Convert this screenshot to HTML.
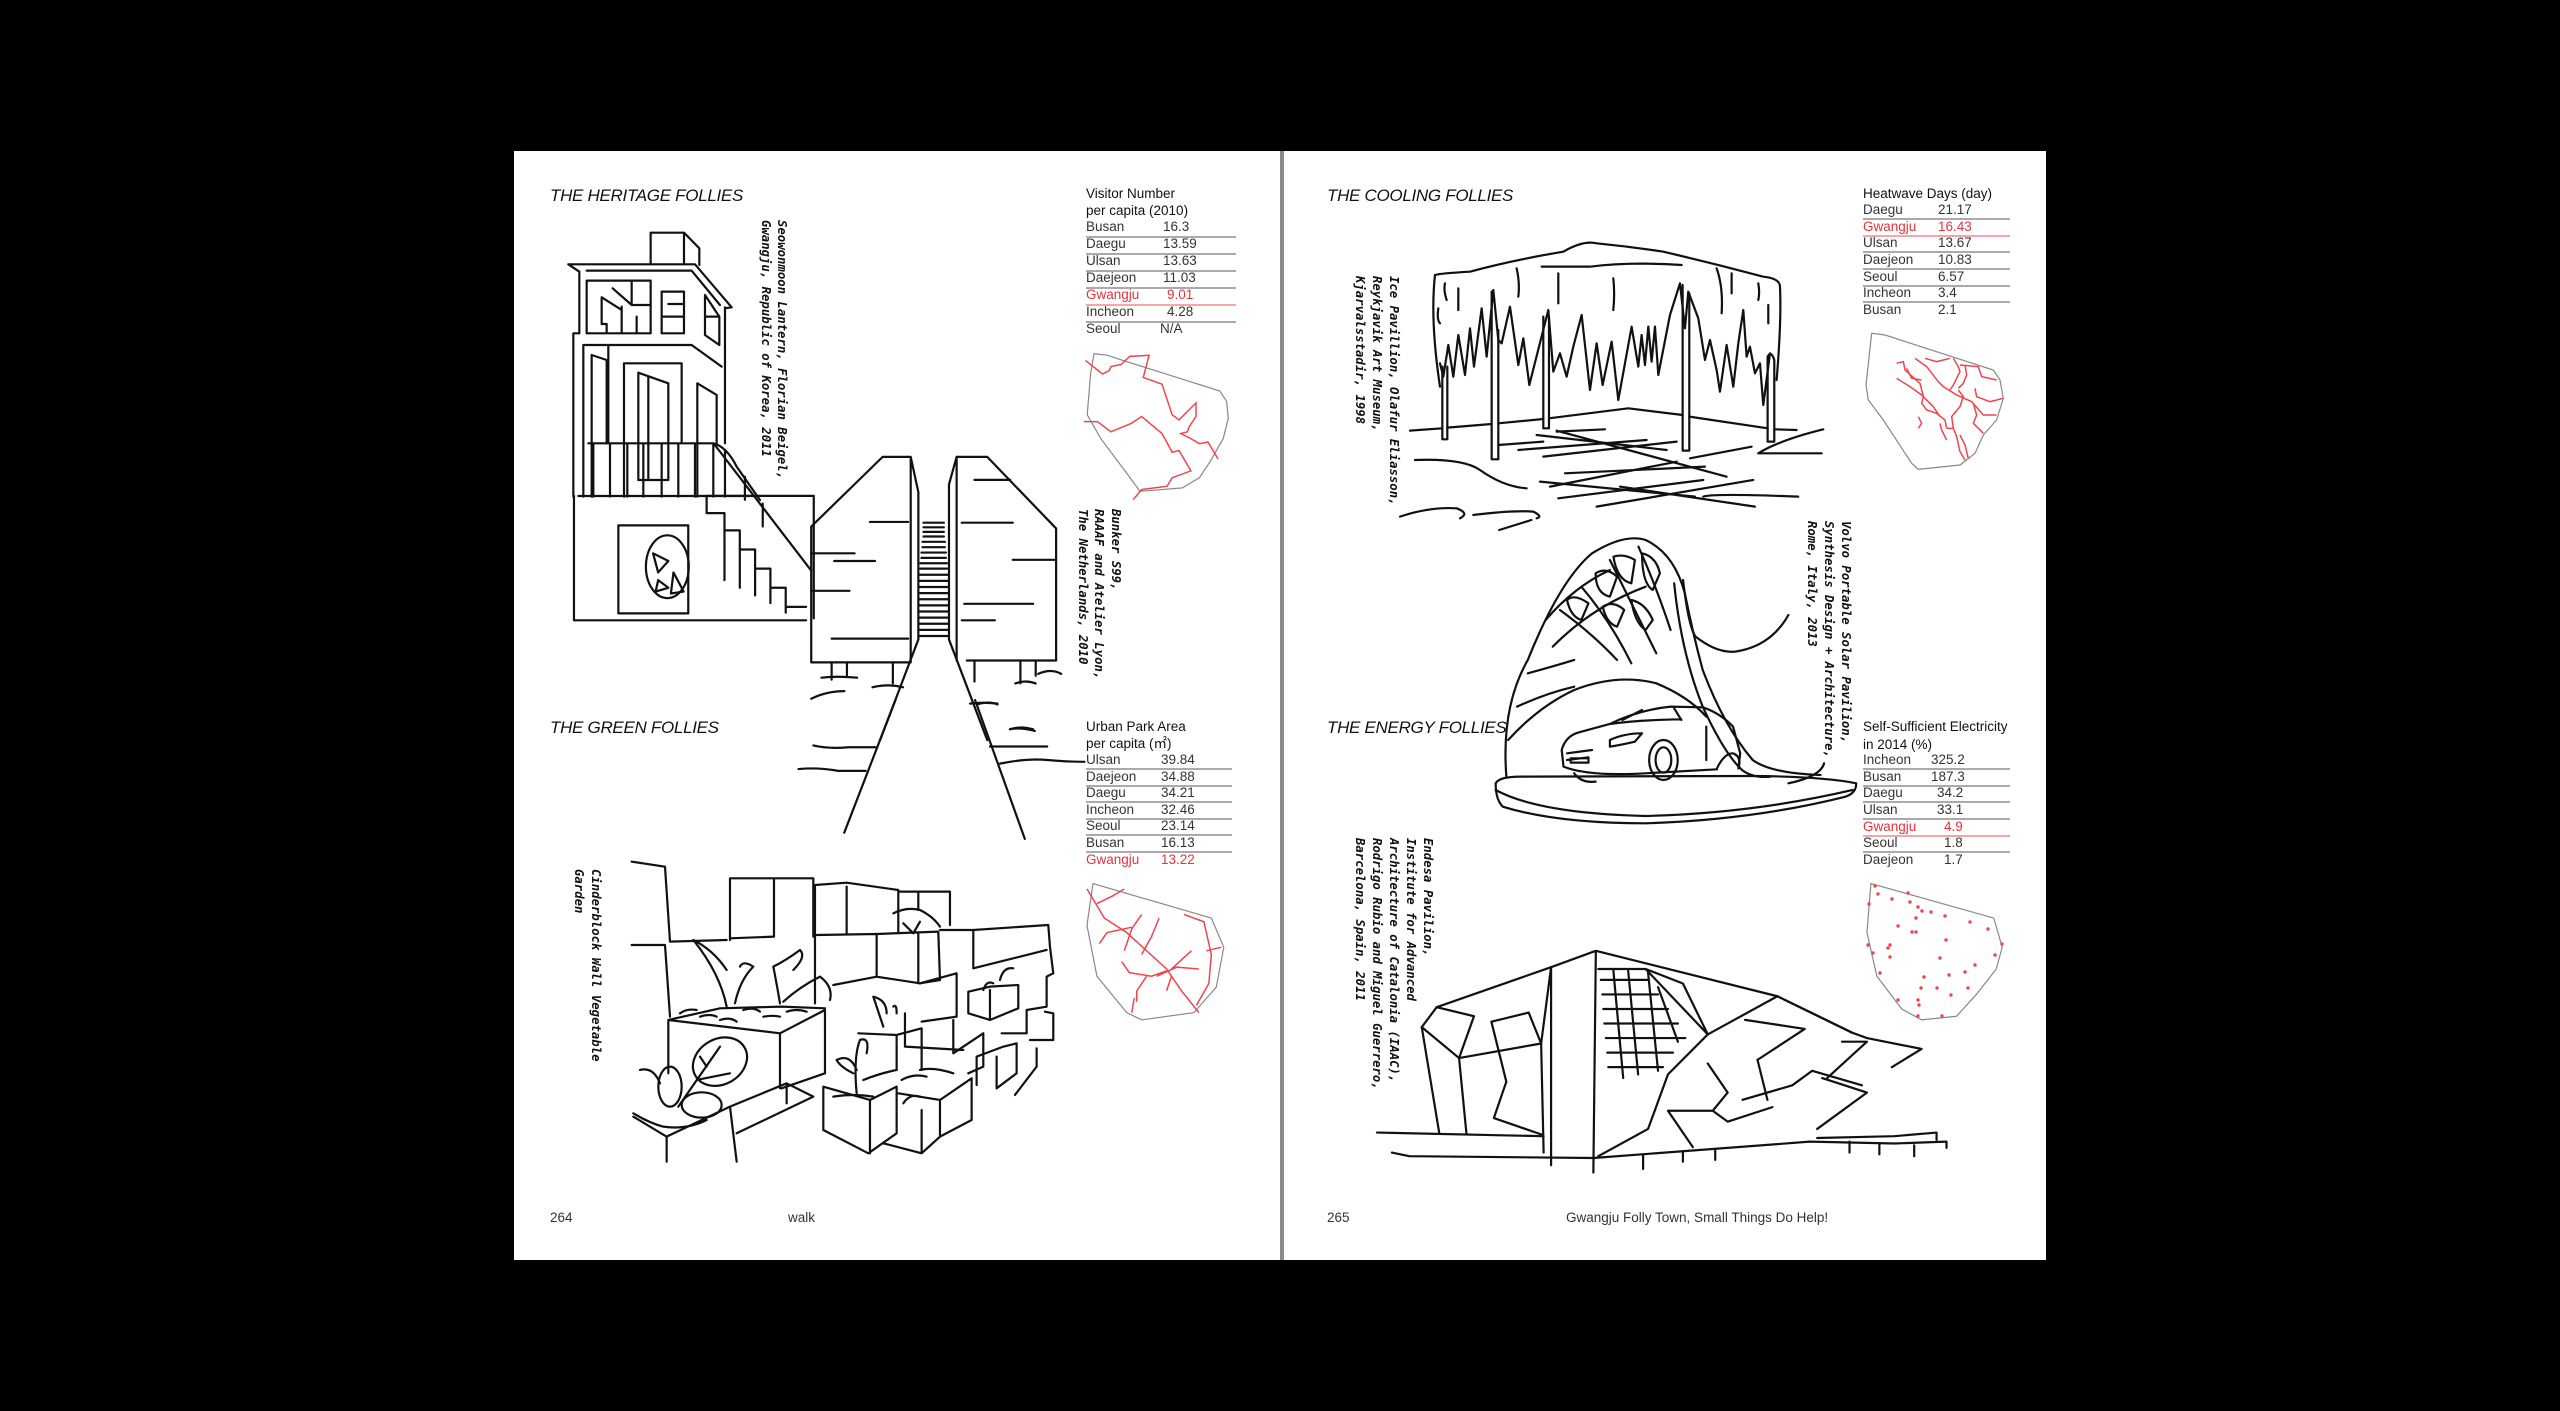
<!DOCTYPE html>
<html><head><meta charset="utf-8">
<style>
html,body{margin:0;padding:0;background:#000;overflow:hidden;}
svg{display:block;}
.ti{font-family:"Liberation Sans",sans-serif;font-style:italic;font-size:17px;fill:#111;letter-spacing:-0.3px;}
.tb{font-family:"Liberation Sans",sans-serif;font-size:13.5px;fill:#333;}
.th{font-family:"Liberation Sans",sans-serif;font-size:13.5px;fill:#111;}
.r{fill:#e8323c;}
.cap{font-family:"DejaVu Sans Mono",monospace;font-weight:bold;font-style:oblique;font-size:12.3px;fill:#111;}
.d path,.d rect,.d ellipse,.d polyline,.d line{fill:none;stroke:#111;stroke-width:2.2;vector-effect:non-scaling-stroke;stroke-linejoin:round;stroke-linecap:round;}
.m path{fill:none;stroke:#888;stroke-width:1.2;vector-effect:non-scaling-stroke;}
.m .rd{stroke:#f0444c;stroke-width:1.5;}
.dot circle{fill:#f0444c;}
.tl line{stroke:#777;stroke-width:1.3;}
.tl line.rl{stroke:#f07078;}
</style></head>
<body>
<svg width="2560" height="1411" viewBox="0 0 2560 1411" xmlns="http://www.w3.org/2000/svg">
<rect x="0" y="0" width="2560" height="1411" fill="#000"/>
<rect x="514" y="151" width="766" height="1109" fill="#fff"/>
<rect x="1284" y="151" width="762" height="1109" fill="#fff"/>
<rect x="1280" y="151" width="4" height="1109" fill="#8a8a8a"/>

<text class="ti" x="550" y="201">THE HERITAGE FOLLIES</text>
<text class="ti" x="550" y="733">THE GREEN FOLLIES</text>
<text class="ti" x="1327" y="201">THE COOLING FOLLIES</text>
<text class="ti" x="1327" y="733">THE ENERGY FOLLIES</text>

<text class="tb" x="550" y="1222">264</text>
<text class="tb" x="788" y="1222">walk</text>
<text class="tb" x="1327" y="1222">265</text>
<text class="tb" x="1566" y="1222">Gwangju Folly Town, Small Things Do Help!</text>

<g class="tl">
<text class="th" x="1086" y="198">Visitor Number</text>
<text class="th" x="1086" y="215">per capita (2010)</text>
<text class="tb" x="1086" y="231">Busan</text><text class="tb" x="1163" y="231">16.3</text>
<line x1="1086" y1="237" x2="1236" y2="237"/>
<text class="tb" x="1086" y="248">Daegu</text><text class="tb" x="1163" y="248">13.59</text>
<line x1="1086" y1="254" x2="1236" y2="254"/>
<text class="tb" x="1086" y="265">Ulsan</text><text class="tb" x="1163" y="265">13.63</text>
<line x1="1086" y1="271" x2="1236" y2="271"/>
<text class="tb" x="1086" y="282">Daejeon</text><text class="tb" x="1163" y="282">11.03</text>
<line x1="1086" y1="288" x2="1236" y2="288"/>
<text class="tb r" x="1086" y="299">Gwangju</text><text class="tb r" x="1167" y="299">9.01</text>
<line class="rl" x1="1086" y1="305" x2="1236" y2="305"/>
<text class="tb" x="1086" y="316">Incheon</text><text class="tb" x="1167" y="316">4.28</text>
<line x1="1086" y1="322" x2="1236" y2="322"/>
<text class="tb" x="1086" y="333">Seoul</text><text class="tb" x="1160" y="333">N/A</text>
</g>

<g class="tl">
<text class="th" x="1086" y="731">Urban Park Area</text>
<text class="th" x="1086" y="748">per capita (㎡)</text>
<text class="tb" x="1086" y="764">Ulsan</text><text class="tb" x="1161" y="764">39.84</text>
<line x1="1086" y1="769" x2="1232" y2="769"/>
<text class="tb" x="1086" y="781">Daejeon</text><text class="tb" x="1161" y="781">34.88</text>
<line x1="1086" y1="786" x2="1232" y2="786"/>
<text class="tb" x="1086" y="797">Daegu</text><text class="tb" x="1161" y="797">34.21</text>
<line x1="1086" y1="802" x2="1232" y2="802"/>
<text class="tb" x="1086" y="814">Incheon</text><text class="tb" x="1161" y="814">32.46</text>
<line x1="1086" y1="819" x2="1232" y2="819"/>
<text class="tb" x="1086" y="830">Seoul</text><text class="tb" x="1161" y="830">23.14</text>
<line x1="1086" y1="835" x2="1232" y2="835"/>
<text class="tb" x="1086" y="847">Busan</text><text class="tb" x="1161" y="847">16.13</text>
<line x1="1086" y1="852" x2="1232" y2="852"/>
<text class="tb r" x="1086" y="864">Gwangju</text><text class="tb r" x="1161" y="864">13.22</text>
</g>

<g class="tl">
<text class="th" x="1863" y="198">Heatwave Days (day)</text>
<text class="tb" x="1863" y="214">Daegu</text><text class="tb" x="1938" y="214">21.17</text>
<line x1="1863" y1="219" x2="2010" y2="219"/>
<text class="tb r" x="1863" y="231">Gwangju</text><text class="tb r" x="1938" y="231">16.43</text>
<line class="rl" x1="1863" y1="236" x2="2010" y2="236"/>
<text class="tb" x="1863" y="247">Ulsan</text><text class="tb" x="1938" y="247">13.67</text>
<line x1="1863" y1="252" x2="2010" y2="252"/>
<text class="tb" x="1863" y="264">Daejeon</text><text class="tb" x="1938" y="264">10.83</text>
<line x1="1863" y1="269" x2="2010" y2="269"/>
<text class="tb" x="1863" y="281">Seoul</text><text class="tb" x="1938" y="281">6.57</text>
<line x1="1863" y1="286" x2="2010" y2="286"/>
<text class="tb" x="1863" y="297">Incheon</text><text class="tb" x="1938" y="297">3.4</text>
<line x1="1863" y1="302" x2="2010" y2="302"/>
<text class="tb" x="1863" y="314">Busan</text><text class="tb" x="1938" y="314">2.1</text>
</g>

<g class="tl">
<text class="th" x="1863" y="731">Self-Sufficient Electricity</text>
<text class="th" x="1863" y="749">in 2014 (%)</text>
<text class="tb" x="1863" y="764">Incheon</text><text class="tb" x="1931" y="764">325.2</text>
<line x1="1863" y1="769" x2="2010" y2="769"/>
<text class="tb" x="1863" y="781">Busan</text><text class="tb" x="1931" y="781">187.3</text>
<line x1="1863" y1="786" x2="2010" y2="786"/>
<text class="tb" x="1863" y="797">Daegu</text><text class="tb" x="1937" y="797">34.2</text>
<line x1="1863" y1="802" x2="2010" y2="802"/>
<text class="tb" x="1863" y="814">Ulsan</text><text class="tb" x="1937" y="814">33.1</text>
<line x1="1863" y1="819" x2="2010" y2="819"/>
<text class="tb r" x="1863" y="831">Gwangju</text><text class="tb r" x="1944" y="831">4.9</text>
<line class="rl" x1="1863" y1="836" x2="2010" y2="836"/>
<text class="tb" x="1863" y="847">Seoul</text><text class="tb" x="1944" y="847">1.8</text>
<line x1="1863" y1="852" x2="2010" y2="852"/>
<text class="tb" x="1863" y="864">Daejeon</text><text class="tb" x="1944" y="864">1.7</text>
</g>

<text class="cap" transform="translate(778,220) rotate(90)">Seowonmoon Lantern, Florian Beigel,</text>
<text class="cap" transform="translate(762,220) rotate(90)">Gwangju, Republic of Korea, 2011</text>
<text class="cap" transform="translate(1112,509) rotate(90)">Bunker S99,</text>
<text class="cap" transform="translate(1095,509) rotate(90)">RAAAF and Atelier Lyon,</text>
<text class="cap" transform="translate(1079,509) rotate(90)">The Netherlands, 2010</text>
<text class="cap" transform="translate(592,869) rotate(90)">Cinderblock Wall Vegetable</text>
<text class="cap" transform="translate(575,869) rotate(90)">Garden</text>
<text class="cap" transform="translate(1390,276) rotate(90)">Ice Pavillion, Olafur Eliasson,</text>
<text class="cap" transform="translate(1373,276) rotate(90)">Reykjavik Art Museum,</text>
<text class="cap" transform="translate(1356,276) rotate(90)">Kjarvalsstadir, 1998</text>
<text class="cap" transform="translate(1842,521) rotate(90)">Volvo Portable Solar Pavilion,</text>
<text class="cap" transform="translate(1825,521) rotate(90)">Synthesis Design + Architecture,</text>
<text class="cap" transform="translate(1808,521) rotate(90)">Rome, Italy, 2013</text>
<text class="cap" transform="translate(1424,838) rotate(90)">Endesa Pavilion,</text>
<text class="cap" transform="translate(1407,838) rotate(90)">Institute for Advanced</text>
<text class="cap" transform="translate(1390,838) rotate(90)">Architecture of Catalonia (IAAC),</text>
<text class="cap" transform="translate(1373,838) rotate(90)">Rodrigo Rubio and Miguel Guerrero,</text>
<text class="cap" transform="translate(1356,838) rotate(90)">Barcelona, Spain, 2011</text>

<g class="m" transform="translate(1060,170) scale(0.34)">
<path d="M100,540 L140,545 L185,560 L470,650 L490,680 L495,730 L480,790 L440,860 L410,905 L360,935 L235,945 L195,890 L120,790 L80,720 L90,600 Z"/>
<path class="rd" d="M75,560 L125,600 L145,590 L150,578 L180,572 L205,548 L262,545 L245,610 L300,630 L330,720 L350,735 L400,685 L400,725 L380,755 L375,770 L355,775 L385,790 L410,805 L435,800 L465,850"/>
<path class="rd" d="M70,740 L110,740 L150,770 L210,745 L240,725 L300,775 L330,830 L350,825 L385,885 L330,905 L315,930 L240,940 L215,970"/>
</g>
<g class="m" transform="translate(1850,320) scale(0.3333)">
<path d="M65,40 L105,45 L430,150 L450,180 L460,235 L440,300 L400,345 L375,400 L330,435 L205,448 L185,430 L100,300 L55,240 L48,195 Z"/>
<path class="rd" d="M140,130 L160,125 L165,150 L210,190 L220,230 L215,250 L230,270 L260,280 L285,300 L290,325"/>
<path class="rd" d="M140,175 L180,200 L215,225 L250,260 L270,290"/>
<path class="rd" d="M195,115 L230,140 L265,185 L280,200 L320,225 L365,245 L400,285 L440,285"/>
<path class="rd" d="M225,115 L260,125 L300,115 M310,115 L325,140 L330,155 L310,195 L300,210 M345,135 L350,165 L340,190 L325,205"/>
<path class="rd" d="M270,310 L275,330 L290,360 M290,325 L310,325 L320,350 L330,395 L345,420 M310,325 L305,290 L330,260 L340,230 L325,210"/>
<path class="rd" d="M370,250 L380,285 L370,310 L400,340 M330,135 L385,140 L395,170 L440,180 M375,205 L380,230 L420,245 L460,235"/>
<path class="rd" d="M205,290 L215,310 L205,325 M330,345 L345,375 L355,415 M170,145 L185,175 L215,180"/>
</g>
<g class="m" transform="translate(510,700) scale(0.4974,0.3635)">
<path d="M1172,505 L1410,600 L1435,680 L1420,790 L1375,860 L1270,880 L1240,860 L1180,760 L1160,620 Z"/>
<path class="rd" d="M1160,520 L1195,600 L1240,640 L1280,690 L1320,740 L1350,800 L1385,860"/>
<path class="rd" d="M1180,560 L1210,540 L1235,520 M1185,670 L1200,640 L1250,625 M1235,690 L1250,630 L1270,590 M1270,700 L1290,650 L1305,600"/>
<path class="rd" d="M1355,590 L1395,610 L1410,700 L1405,780 L1380,840 M1430,680 L1400,690 M1330,740 L1370,690 M1300,760 L1340,735 L1385,740"/>
<path class="rd" d="M1230,720 L1245,750 L1290,760 L1320,745 M1260,830 L1260,800 L1280,760 M1320,800 L1330,760 M1250,860 L1255,820"/>
</g>
<g class="m" transform="translate(1280,700) scale(0.4974,0.3635)">
<path d="M1188,505 L1435,600 L1452,680 L1440,740 L1400,810 L1360,870 L1290,880 L1250,850 L1200,760 L1180,640 Z"/>
</g>
<g class="dot" transform="translate(1280,0)">
<circle cx="595" cy="886" r="1.7"/><circle cx="598" cy="894" r="1.7"/><circle cx="612" cy="899" r="1.7"/><circle cx="628" cy="893" r="1.7"/><circle cx="630" cy="902" r="1.7"/><circle cx="638" cy="907" r="1.7"/><circle cx="642" cy="911" r="1.7"/><circle cx="651" cy="912" r="1.7"/><circle cx="665" cy="916" r="1.7"/><circle cx="636" cy="918" r="1.7"/><circle cx="589" cy="904" r="1.7"/><circle cx="618" cy="926" r="1.7"/><circle cx="632" cy="932" r="1.7"/><circle cx="636" cy="932" r="1.7"/><circle cx="690" cy="922" r="1.7"/><circle cx="708" cy="929" r="1.7"/><circle cx="666" cy="940" r="1.7"/><circle cx="610" cy="945" r="1.7"/><circle cx="608" cy="948" r="1.7"/><circle cx="588" cy="945" r="1.7"/><circle cx="593" cy="953" r="1.7"/><circle cx="722" cy="944" r="1.7"/><circle cx="715" cy="955" r="1.7"/><circle cx="610" cy="957" r="1.7"/><circle cx="660" cy="958" r="1.7"/><circle cx="695" cy="965" r="1.7"/><circle cx="685" cy="972" r="1.7"/><circle cx="669" cy="975" r="1.7"/><circle cx="644" cy="977" r="1.7"/><circle cx="600" cy="973" r="1.7"/><circle cx="641" cy="988" r="1.7"/><circle cx="657" cy="988" r="1.7"/><circle cx="671" cy="995" r="1.7"/><circle cx="688" cy="988" r="1.7"/><circle cx="618" cy="1000" r="1.7"/><circle cx="638" cy="1000" r="1.7"/><circle cx="639" cy="1005" r="1.7"/><circle cx="638" cy="1016" r="1.7"/><circle cx="662" cy="1016" r="1.7"/>
</g>

<g class="d" transform="translate(540,220) scale(0.3333)">
<path d="M332,130 V38 H432 L478,85 V135 M432,38 V130"/>
<path d="M85,133 H465 L575,262 L555,265 M85,133 L118,155 V340 H100 V830 M140,152 H455 L540,255"/>
<path d="M140,182 H332 V340 H140 Z M275,182 V250 M218,205 L275,255 H332 M290,290 V340 M245,260 V340 M185,232 V312 H200 V340 M185,232 L245,270"/>
<path d="M365,215 H432 V340 H365 Z M385,252 H432 M365,290 H432 M495,225 L538,290 V375 L495,345 Z M495,290 H538"/>
<path d="M555,262 V670 M130,375 H455 L545,440 M130,375 V830 M205,375 V670 M155,405 L200,420 V670 M155,405 V830 M252,430 H425 V670 M252,430 V830 M295,458 L385,490 V780 H295 Z M325,470 V780 M472,490 L530,525 V670 M472,490 V830"/>
<path d="M145,670 H520 Q560,680 590,740 L660,840 M160,670 V830 M210,670 V830 M262,670 V830 M310,670 V830 M365,670 V830 M415,670 V830 M465,670 V830 M520,670 V830 M555,690 V830 M115,828 H640"/>
</g>
<g class="d" transform="translate(500,140) scale(0.5102,0.3827)">
<path d="M145,930 V1255 H600 M405,930 H615 V1250 M232,1007 H369 V1237 H232 Z"/>
<ellipse cx="328" cy="1115" rx="42" ry="82"/>
<path d="M300,1080 L330,1100 L310,1130 Z M340,1130 L360,1180 L335,1185 Z M310,1150 L330,1170 L305,1180 Z"/>
<path d="M420,795 L610,1125 M405,930 V975 H440 V1020 H470 V1070 H500 V1120 H530 V1170 H560 V1220 H600 M440,975 V1150 M470,1020 V1170 M500,1070 V1190 M530,1120 V1210 M560,1170 V1235 M480,880 V940 M515,950 V1010"/>
<path d="M610,1365 V1010 L750,828 H805 L820,920 V1305 M805,828 V1365 H610"/>
<path d="M895,828 H955 L1090,1015 V1360 H915 M880,900 L895,828 M880,900 V1305 M895,828 V1360"/>
<path d="M725,998 H800 M610,1080 H695 M655,1100 H735 M610,1178 H685 M650,1303 H800 M905,1000 H1005 M1005,1097 H1090 M910,1212 H1045 M905,1255 H970 M930,888 H1000"/>
<path d="M830,1000 H870 M830,1012 H870 M830,1024 H870 M830,1036 H870 M828,1050 H872 M828,1064 H872 M826,1078 H874 M826,1092 H874 M824,1106 H876 M824,1120 H876 M822,1136 H878 M822,1152 H878 M822,1168 H878 M820,1184 H880 M820,1200 H880 M820,1216 H880 M820,1232 H880 M820,1248 H880 M820,1264 H880 M820,1280 H880 M820,1296 H880"/>
<path d="M650,1365 V1410 M680,1365 V1400 M770,1365 V1420 M930,1360 V1415 M1020,1360 V1420 M1050,1360 V1400"/>
<path d="M820,1305 L745,1568 M880,1305 L955,1568"/>
<path d="M630,1405 Q660,1400 700,1405 M1055,1395 Q1080,1380 1100,1395 M610,1460 Q640,1440 675,1440 M730,1430 Q760,1420 790,1430 M935,1475 Q960,1465 975,1475 M1010,1420 Q1030,1410 1050,1420 M1000,1540 Q1020,1530 1045,1540"/>
</g>
<g class="d" transform="translate(510,700) scale(0.4974,0.3635)">
<path d="M775,0 L672,365 M935,0 L1035,382"/>
<path d="M610,125 Q640,135 680,130 H735 M580,190 Q620,185 660,195 H715 M1005,80 Q1030,75 1055,85 M965,128 H1080 M985,175 Q1040,160 1080,165 Q1120,170 1155,170 M925,10 Q950,5 980,10"/>
</g>
<g class="d" transform="translate(620,840) scale(0.3333)">
<path d="M35,65 L135,80 L150,305 L320,300 M35,315 L135,315 L150,530"/>
<path d="M330,115 H580 V290 M330,115 V300 M462,120 V290 M330,295 L462,290"/>
<path d="M585,135 L680,128 L835,150 V275 M680,140 V280 M585,135 V490 M840,155 H990 V255 M895,155 V210"/>
<path d="M590,285 L770,282 L955,275 L960,420 L900,430 L770,410 L640,435 M770,285 V410 M895,282 V430"/>
<path d="M960,270 L1060,270 L1285,255 L1290,320 L1300,400 L1280,410 L1280,500 L1220,510 V580 L1145,580 M1060,270 V385 L1200,350 L1280,330 M1275,515 L1300,520 V600 L1230,600 M1250,625 V680 L1185,765"/>
<path d="M145,540 V700 M145,540 L300,505 L485,500 L615,505 M145,540 L480,580 L615,510 M480,580 V745 M615,510 V700 L485,745"/>
<path d="M40,830 L140,890 L330,800 L500,730 L580,770 L350,880 M140,890 V965 M330,800 L350,965 M500,730 V790"/>
<path d="M610,740 L750,780 L830,740 V880 L745,940 L610,870 Z M750,780 V940"/>
<path d="M835,760 L960,780 L1055,715 V840 L960,890 L905,940 L790,910 M960,780 V890 M905,810 V940"/>
<path d="M715,580 L830,585 L905,565 V690 M830,585 V690"/>
<path d="M1070,735 V650 L1150,620 L1190,610 V700 L1130,745 M1130,650 V745"/>
<path d="M1045,455 L1110,440 L1195,435 V505 L1110,540 L1045,520 Z M1110,450 V540"/>
<path d="M900,430 L1010,400 V530 L905,545 M855,520 V620 L1030,630 M1000,540 V640 L1090,580 V680 L1045,700"/>
<ellipse cx="300" cy="665" rx="85" ry="68" transform="rotate(-30 300 665)"/>
<ellipse cx="150" cy="740" rx="35" ry="60"/>
<ellipse cx="245" cy="795" rx="60" ry="38"/>
<path d="M175,800 L300,620 M230,720 L330,700 M260,680 L240,650 M60,690 Q100,680 120,730 M40,820 Q90,850 130,860 Q200,870 260,840"/>
<path d="M320,500 Q300,400 220,300 Q280,330 320,390 M345,490 Q360,420 400,380 Q370,360 360,380 M480,490 Q470,430 460,380 Q500,360 540,330 Q560,350 520,390 M490,485 Q540,440 600,410 Q640,440 630,480"/>
<path d="M180,520 Q200,505 230,510 M240,530 Q270,520 290,530 M300,540 Q330,530 350,545 M370,510 Q400,500 420,515 M430,530 Q460,525 480,530 M500,515 Q530,505 560,515"/>
<path d="M710,760 Q700,650 720,600 Q750,590 740,640 M700,700 Q660,680 650,660 Q690,640 710,690 M730,720 Q780,700 830,690 M640,770 Q700,760 760,770 M790,560 Q770,500 760,470 Q800,480 800,520 M820,500 Q830,490 830,520 M845,720 Q880,700 920,710 M900,690 Q940,680 1000,700 M850,790 Q870,760 900,770"/>
<path d="M820,220 Q860,200 900,210 Q940,230 960,260 M850,250 L880,280 L900,245 M1090,450 Q1100,420 1120,430 M1140,420 Q1150,380 1180,385"/>
</g>

<g class="d" transform="translate(1330,220) scale(0.3333)">
<path d="M315,165 Q330,160 420,155 Q550,120 700,95 Q760,60 800,70 Q900,80 1000,95 Q1150,130 1300,170 Q1350,175 1350,200 Q1355,300 1340,480 M315,165 Q300,300 330,500"/>
<path d="M635,140 H780 Q900,125 1055,135 M345,190 Q340,210 350,240 M385,205 V270 M560,145 Q570,190 565,230 M685,160 V250 M850,175 Q855,220 850,270 M1160,145 Q1180,200 1175,280 M1205,160 V220 M1285,190 Q1290,220 1285,240 M1315,255 V310 M325,265 Q320,300 330,310"/>
<polyline points="330,430 340,470 355,375 370,470 385,345 405,465 420,325 432,440 455,265 470,410 490,210 505,360 515,370 540,260 565,435 580,355 598,495 655,270 670,455 690,400 710,470 730,380 755,285 780,510 800,370 818,495 845,365 865,540 905,320 925,440 935,345 945,435 955,320 965,425 975,320 985,465 1020,285 1050,190 1065,325 1075,215 1105,295 1125,420 1140,360 1160,450 1170,515 1190,375 1210,500 1225,370 1240,270 1250,410 1260,380 1275,460 1290,430 1300,555 1320,400"/>
<path d="M337,440 V658 H352 V440 M485,215 V718 H505 V330 M640,290 V625 H657 V290 M1058,195 V692 H1078 V220 M1313,410 V665 H1333 V420 Q1323,390 1313,410"/>
<path d="M240,632 L337,625 M352,623 L485,612 M505,610 L640,597 M657,595 L895,565 L1058,585 M1078,590 L1313,625 M1333,628 L1400,630"/>
<path d="M505,675 L640,665 M1080,715 L1265,680 M620,645 L1010,690 M680,632 L1190,770 M565,690 L950,660 M640,710 L1040,665 M680,635 L825,628 M705,760 L1125,740 M630,785 L1095,830 M660,800 L1040,725 M685,835 L1120,780 M800,860 L1270,780 M870,800 L1275,860"/>
<path d="M255,720 Q400,715 450,750 Q520,800 590,805 M210,890 Q300,860 380,865 Q420,880 390,895 M430,885 Q550,870 610,875 Q640,890 620,895 M1120,830 Q1150,820 1405,830 M1285,700 Q1350,660 1480,628 M1285,700 H1475"/>
</g>

<g class="d" transform="translate(1360,520) scale(0.357,0.3333)">
<path d="M390,30 L480,0"/>
<path d="M410,770 Q395,560 470,420 Q560,180 650,100 Q740,40 800,60 Q880,100 910,220 Q930,330 960,450 Q1020,620 1100,720 Q1150,760 1290,765"/>
<path d="M905,180 Q920,320 940,350 Q1000,400 1050,395 Q1150,380 1200,285"/>
<path d="M880,190 Q900,400 960,560 Q1020,700 1070,750 Q1100,775 1150,770 M1300,730 Q1290,770 1200,790"/>
<path d="M415,660 Q500,560 600,510 Q720,460 830,490 Q920,530 970,590"/>
<path d="M520,300 Q600,200 700,150 M540,380 Q650,260 800,200 M560,270 Q650,340 720,420 M620,200 Q700,300 760,430 M700,120 Q760,250 830,400 M780,80 Q830,200 870,330 M470,460 Q540,440 600,420 M440,560 Q520,520 600,500"/>
<path d="M580,240 Q600,220 640,250 L620,300 Q590,290 580,240 Z M660,160 Q690,140 720,170 L700,230 Q660,220 660,160 Z M710,110 Q740,100 770,120 L760,190 Q720,180 710,110 Z M790,100 Q830,110 840,160 L820,210 Q790,190 790,100 Z M680,260 Q710,240 740,270 L720,320 Q690,310 680,260 Z M760,240 Q800,250 820,300 L800,330 Q770,310 760,240 Z"/>
<path d="M380,790 Q390,770 450,770 L1100,768 Q1300,770 1390,790 Q1390,820 1360,830 Q1100,900 800,910 Q550,910 400,860 Q380,840 380,790 Z M380,810 Q500,880 800,888 Q1100,880 1380,810"/>
<path d="M570,740 L565,690 Q575,650 610,638 L700,612 Q780,570 870,560 L960,562 Q1010,580 1045,620 L1065,700 L1060,745 M570,740 Q640,770 800,760 L1000,748 M700,612 Q780,600 900,598 M735,600 L790,570 M880,565 L900,600 M970,620 V720"/>
<path d="M580,700 L650,690 M580,720 L640,712 M590,715 H640 V728 H590 Z M700,660 Q740,640 790,640 L770,665 Q730,675 700,680 Z"/>
<ellipse cx="850" cy="720" rx="40" ry="60"/><ellipse cx="850" cy="720" rx="22" ry="38"/>
<path d="M600,760 Q620,790 660,785 M1000,745 Q1020,700 1045,700 Q1070,710 1060,745"/>
</g>

<g class="d" transform="translate(1280,700) scale(0.4974,0.3635)">
<path d="M285,900 L315,845 L545,735 L635,690 L1000,815 L1150,915 M635,690 L630,1300"/>
<path d="M285,900 L360,985 L375,1195 M285,900 L320,1190 M360,985 L525,945 M315,845 L390,870 L360,985"/>
<path d="M425,885 L500,860 L525,945 L530,1245 M425,885 L455,1050 L430,1150 L525,1195"/>
<path d="M545,735 L525,945 M545,1280 L545,735"/>
<path d="M640,740 L735,740 L860,920 L780,1030 L740,1180 L640,1255 M735,740 L810,780 L860,920"/>
<path d="M645,770 H740 M648,810 H760 M650,850 H780 M652,890 H800 M655,930 H815 M658,970 H790 M660,1010 H770 M670,740 L690,1040 M700,745 L720,1030 M740,750 L760,1020 M760,790 L800,940"/>
<path d="M860,920 L1000,815 M935,880 L1055,905 L960,990 M1000,815 L1150,915 L1180,930 L1290,960 L1230,1010 M1090,1040 L1180,1080 L1080,1180"/>
<path d="M990,1120 L900,1160 L870,1130 L780,1130 L830,1230 M930,1100 L1030,1060 L1070,1020 L1170,1060 M860,1000 L900,1080 L870,1130 M960,990 L980,1100 M1130,940 L1180,940 L1100,1040"/>
<path d="M195,1190 L530,1200 M225,1245 L260,1255 L630,1260 L1065,1215 L1235,1220 L1340,1215 M1080,1205 L1235,1200 L1320,1190 V1210 M1340,1215 V1232"/>
<path d="M730,1250 V1290 M810,1245 V1270 M875,1235 V1265 M1145,1215 V1245 M1205,1220 V1250 M1275,1225 V1255"/>
</g>
</svg>
</body></html>
